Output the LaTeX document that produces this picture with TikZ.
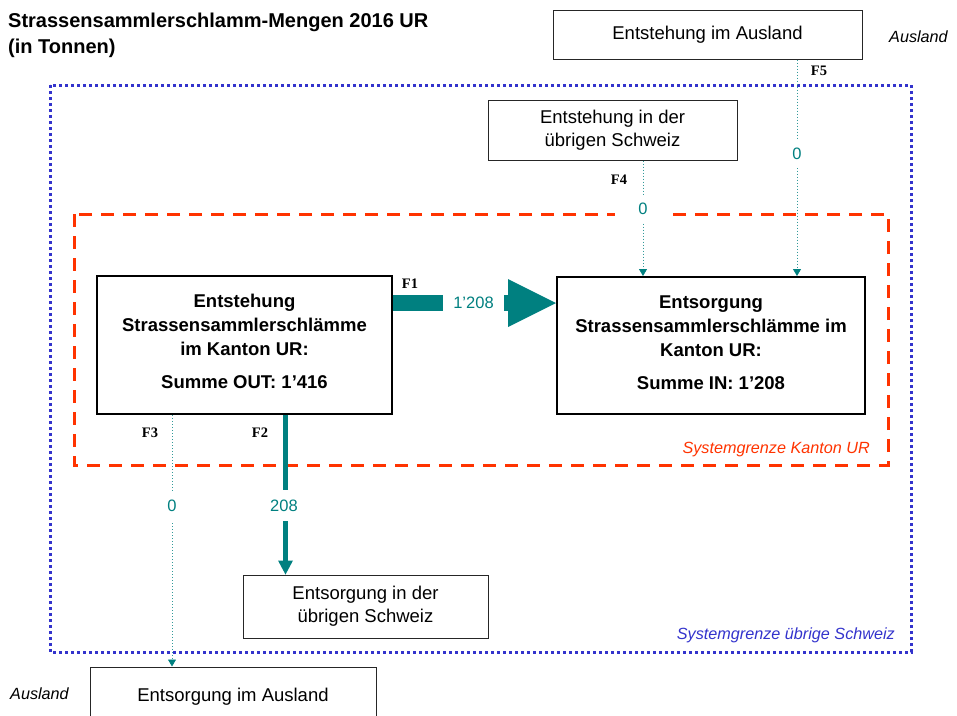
\documentclass[tikz,border=0pt]{standalone}
\usepackage{fontspec}
\setmainfont{Liberation Sans}
\newfontfamily\serifb{Liberation Serif}
\usetikzlibrary{calc,arrows.meta}
\definecolor{tealc}{HTML}{008080}
\definecolor{redb}{HTML}{FF3300}
\definecolor{blueb}{HTML}{3333CC}
\begin{document}
\begin{tikzpicture}[x=1pt,y=-1pt,
 box/.style={draw=black!85, line width=1pt, fill=white, align=center, font=\fontsize{18.5}{23}\selectfont, inner sep=0pt},
 mainbox/.style={draw=black, line width=2pt, fill=white, inner sep=0pt},
 maintext/.style={align=center, font=\bfseries\fontsize{18.5}{24}\selectfont, inner sep=0pt},
 flabel/.style={font=\serifb\bfseries\fontsize{14.5}{16}\selectfont, inner sep=0pt},
 num/.style={text=tealc, font=\fontsize{16.5}{18}\selectfont, fill=white, inner sep=0pt},
 thinflow/.style={tealc!80, line width=0.8pt, dash pattern=on 1.2pt off 1.8pt, -{Triangle[width=8pt,length=7pt,fill=tealc,color=tealc]}},
 sysred/.style={redb, line width=3pt, dash pattern=on 13pt off 9pt},
 sysblue/.style={blueb, line width=3pt, dash pattern=on 3pt off 3pt},
 syslabel/.style={font=\itshape\fontsize{16.2}{18}\selectfont, inner sep=0pt},
]
\useasboundingbox (0,0) rectangle (957,715);

% title
\node[anchor=north west, align=left, inner sep=0pt, font=\bfseries\fontsize{20}{26}\selectfont] (title) at (8,13)
 {Strassensammlerschlamm-Mengen 2016 UR\\(in Tonnen)};

% system boundaries
\draw[sysblue] (50,85) rectangle (911,652);
\draw[sysred] (74,214) rectangle (888,465);
\node[syslabel, text=redb, anchor=east] (lblred) at (870,450) {Systemgrenze Kanton UR};
\node[syslabel, text=blueb, anchor=east] (lblblue) at (895,635) {Systemgrenze übrige Schweiz};
\node[syslabel, anchor=west] (ausl1) at (889,37) {Ausland};
\node[syslabel, anchor=west] (ausl2) at (10,694) {Ausland};

% boxes
\node[box, minimum width=309pt, minimum height=49pt] (ausin) at (707.5,34.5) {Entstehung im Ausland};
\node[box, minimum width=249pt, minimum height=60pt] (chin) at (612.5,130) {Entstehung in der\\übrigen Schweiz};
\node[mainbox, minimum width=295pt, minimum height=138pt] (left) at (244.5,345) {};
\node[maintext] (lefttext) at (244.5,341)
 {Entstehung\\Strassensammlerschlämme\\im Kanton UR:\\[9pt]Summe OUT: 1’416};
\node[mainbox, minimum width=308pt, minimum height=137pt] (right) at (711,345.5) {};
\node[maintext] (righttext) at (711,343)
 {Entsorgung\\Strassensammlerschlämme im\\Kanton UR:\\[9pt]Summe IN: 1’208};
\node[box, minimum width=245pt, minimum height=63pt] (chout) at (365.5,606.5) {Entsorgung in der\\übrigen Schweiz};
\node[box, minimum width=286pt, minimum height=60pt] (ausout) at (233,697) {Entsorgung im Ausland};

% x positions of the flows
\coordinate (x3) at (172,0);
\coordinate (x2) at (285.5,0);
\coordinate (x4) at (643,0);
\coordinate (x5) at (797,0);

% F1
\coordinate (f1a) at (left.east |- 0,303);
\coordinate (f1t) at (right.west |- 0,303);
\draw[tealc, line width=16pt] (f1a) -- ($(f1t)+(-46,0)$);
\fill[tealc] (f1t) -- ++(-48,-24) -- ++(0,48) -- cycle;
\node[num, minimum width=61pt, minimum height=20pt] (v1) at (473.5,303) {1’208};
\node[flabel] (F1) at (410,284) {F1};

% F2
\coordinate (f2a) at (left.south -| x2);
\coordinate (f2b) at (chout.north -| x2);
\draw[tealc, line width=5pt] (f2a) -- ($(f2b)+(0,-13)$);
\fill[tealc] (f2b) -- ++(-7.5,-14) -- ++(15,0) -- cycle;
\node[num, minimum width=30pt, minimum height=31pt] (v2) at (284,505.5) {208};
\node[flabel] (F2) at (260,433) {F2};

% F3
\draw[thinflow] (left.south -| x3) -- (ausout.north -| x3);
\node[num, minimum width=20pt, minimum height=30pt] (v3) at (172,505.5) {0};
\node[flabel] (F3) at (150,433) {F3};

% F4
\draw[thinflow] (chin.south -| x4) -- (right.north -| x4);
\node[num, minimum width=56pt, minimum height=27pt] (v4) at (643,208.5) {0};
\node[flabel] (F4) at (619,180) {F4};

% F5
\draw[thinflow] (ausin.south -| x5) -- (right.north -| x5);
\node[num, minimum width=20pt, minimum height=28pt] (v5) at (797,154) {0};
\node[flabel] (F5) at (819,71) {F5};
\end{tikzpicture}
\end{document}
